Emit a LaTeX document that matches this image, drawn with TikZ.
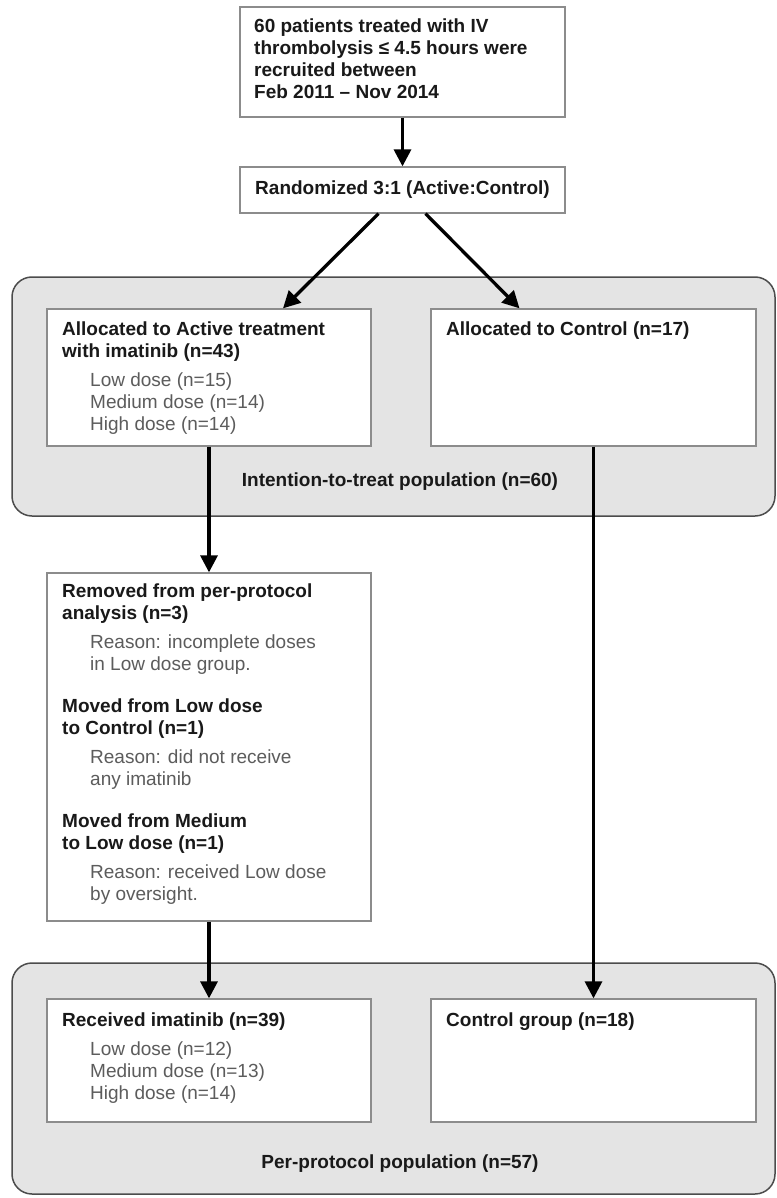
\documentclass[tikz,border=0pt]{standalone}
\usepackage{fontspec}
\setmainfont{Liberation Sans}
\usetikzlibrary{arrows.meta}
\definecolor{panelgray}{HTML}{E4E4E4}
\definecolor{textgray}{HTML}{5C5C5C}
\newcommand{\doseline}[1]{\hspace*{28pt}{\mdseries\color{textgray}#1}}
\begin{document}
\begin{tikzpicture}[x=1pt, y=-1pt,
  panel/.style={draw=black!70, line width=1.5pt, fill=panelgray, rounded corners=20pt, inner sep=0pt},
  box/.style={draw=black!45, line width=1.3pt, fill=white, inner sep=0pt},
  txt/.style={anchor=north west, align=left, inner sep=0pt, font=\fontsize{19}{22}\selectfont\bfseries, text=black!90},
  lbl/.style={inner sep=0pt, font=\fontsize{19}{22}\selectfont\bfseries, text=black!90},
  flow/.style={-{Triangle[length=17pt,width=17pt]}, line width=3.3pt}]
\useasboundingbox (0,0) rectangle (776,1198);
\node[panel, minimum width=763pt, minimum height=239pt] (itt) at (393.5,396.5) {};
\node[panel, minimum width=763pt, minimum height=231pt] (pp) at (393.5,1078.5) {};
\node[box, minimum width=325pt, minimum height=110pt] (pat) at (402.5,62) {};
\node[txt] (pattxt) at (254,19) {60 patients treated with IV\\thrombolysis ≤ 4.5 hours were\\recruited between\\Feb 2011 – Nov 2014};
\node[box, lbl, minimum width=325pt, minimum height=46pt] (rand) at (402.5,190) {Randomized 3:1 (Active:Control)};
\node[box, minimum width=324pt, minimum height=137pt] (act) at (209,377.5) {};
\node[txt] (acttxt) at (62,322) {Allocated to Active treatment\\with imatinib (n=43)\\[7pt]\doseline{Low dose (n=15)}\\\doseline{Medium dose (n=14)}\\\doseline{High dose (n=14)}};
\node[box, minimum width=325pt, minimum height=137pt] (ctl) at (593.5,377.5) {};
\node[txt] (ctltxt) at (446,322) {Allocated to Control (n=17)};
\node[lbl] (ittlbl) at (400,482) {Intention-to-treat population (n=60)};
\node[box, minimum width=324pt, minimum height=348pt] (rem) at (209,747) {};
\node[txt] (remtxt) at (62,584) {Removed from per-protocol\\analysis (n=3)\\[7pt]\doseline{Reason: incomplete doses}\\\doseline{in Low dose group.}\\[20pt]Moved from Low dose\\to Control (n=1)\\[7pt]\doseline{Reason: did not receive}\\\doseline{any imatinib}\\[20pt]Moved from Medium\\to Low dose (n=1)\\[7pt]\doseline{Reason: received Low dose}\\\doseline{by oversight.}};
\node[box, minimum width=324pt, minimum height=123pt] (recv) at (209,1060.5) {};
\node[txt] (recvtxt) at (62,1013) {Received imatinib (n=39)\\[7pt]\doseline{Low dose (n=12)}\\\doseline{Medium dose (n=13)}\\\doseline{High dose (n=14)}};
\node[box, minimum width=325pt, minimum height=123pt] (ctlgrp) at (593.5,1060.5) {};
\node[txt] (ctlgrptxt) at (446,1013) {Control group (n=18)};
\node[lbl] (pplbl) at (400,1164) {Per-protocol population (n=57)};
\draw[flow] (pat.south) -- (rand.north);
\draw[flow] ([xshift=-24pt]rand.south) -- ([xshift=74pt]act.north);
\draw[flow] ([xshift=23pt]rand.south) -- ([xshift=-74pt]ctl.north);
\draw[flow] (act.south) -- (rem.north);
\draw[flow] (rem.south) -- (recv.north);
\draw[flow] (ctl.south) -- (ctlgrp.north);
\end{tikzpicture}
\end{document}
